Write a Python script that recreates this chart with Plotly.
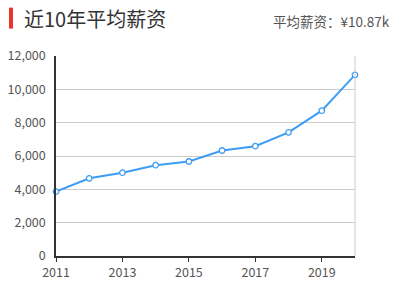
import plotly.graph_objects as go

years = [2011, 2012, 2013, 2014, 2015, 2016, 2017, 2018, 2019, 2020]
salary = [3860, 4660, 5000, 5450, 5670, 6330, 6590, 7420, 8720, 10870]
title_text = "近10年平均薪资"
avg_text = "平均薪资：¥10.87k"
x_ticks = [2011, 2013, 2015, 2017, 2019]
y_ticks = [0, 2000, 4000, 6000, 8000, 10000, 12000]

W, H = 401, 284
L, R, T, B = 56, 46, 55.5, 28
PW, PH = W - L - R, H - T - B

def px(x):
    return (x - L) / PW

def py(y):
    return (H - B - y) / PH

fig = go.Figure()
fig.add_trace(go.Scatter(
    x=years, y=salary, mode="lines+markers",
    line=dict(color="#3d9cf3", width=2),
    marker=dict(size=5.5, color="white", line=dict(color="#3d9cf3", width=1.3)),
    cliponaxis=False, hoverinfo="x+y",
))

font_family = "Noto Sans CJK SC, Noto Sans, sans-serif"
fig.update_layout(
    width=W, height=H,
    margin=dict(l=L, r=R, t=T, b=B),
    paper_bgcolor="white", plot_bgcolor="white",
    showlegend=False,
    font=dict(family=font_family, color="#666", size=12),
    xaxis=dict(
        range=[2011, 2020], tickvals=x_ticks, ticktext=[str(t) for t in x_ticks],
        showgrid=False, zeroline=False, showline=True, linecolor="#333", linewidth=1.5,
        ticks="outside", ticklen=4, tickcolor="#333", tickfont=dict(size=12.5, color="#555"),
        automargin=False,
    ),
    yaxis=dict(
        range=[0, 12000], tickvals=y_ticks, tickformat=",d",
        showgrid=True, gridcolor="#ccc", gridwidth=1, zeroline=False,
        showline=True, linecolor="#333", linewidth=1.5,
        ticks="", ticklabelstandoff=6, tickfont=dict(size=12.5, color="#555"),
        automargin=False,
    ),
    shapes=[
        dict(type="line", xref="paper", yref="paper", x0=1, x1=1, y0=0, y1=1,
             line=dict(color="#ccc", width=1)),
        dict(type="rect", xref="paper", yref="paper", x0=px(9), x1=px(13),
             y0=py(28), y1=py(7), fillcolor="#e8342c", line=dict(width=0)),
    ],
    annotations=[
        dict(text=title_text, xref="paper", yref="paper", x=px(22), y=py(18),
             xanchor="left", yanchor="middle", showarrow=False,
             font=dict(size=20, color="#333", family=font_family)),
        dict(text=avg_text, xref="paper", yref="paper", x=px(392), y=py(20),
             xanchor="right", yanchor="middle", showarrow=False,
             font=dict(size=13.5, color="#555", family=font_family)),
    ],
)

fig.write_html("out.html")
